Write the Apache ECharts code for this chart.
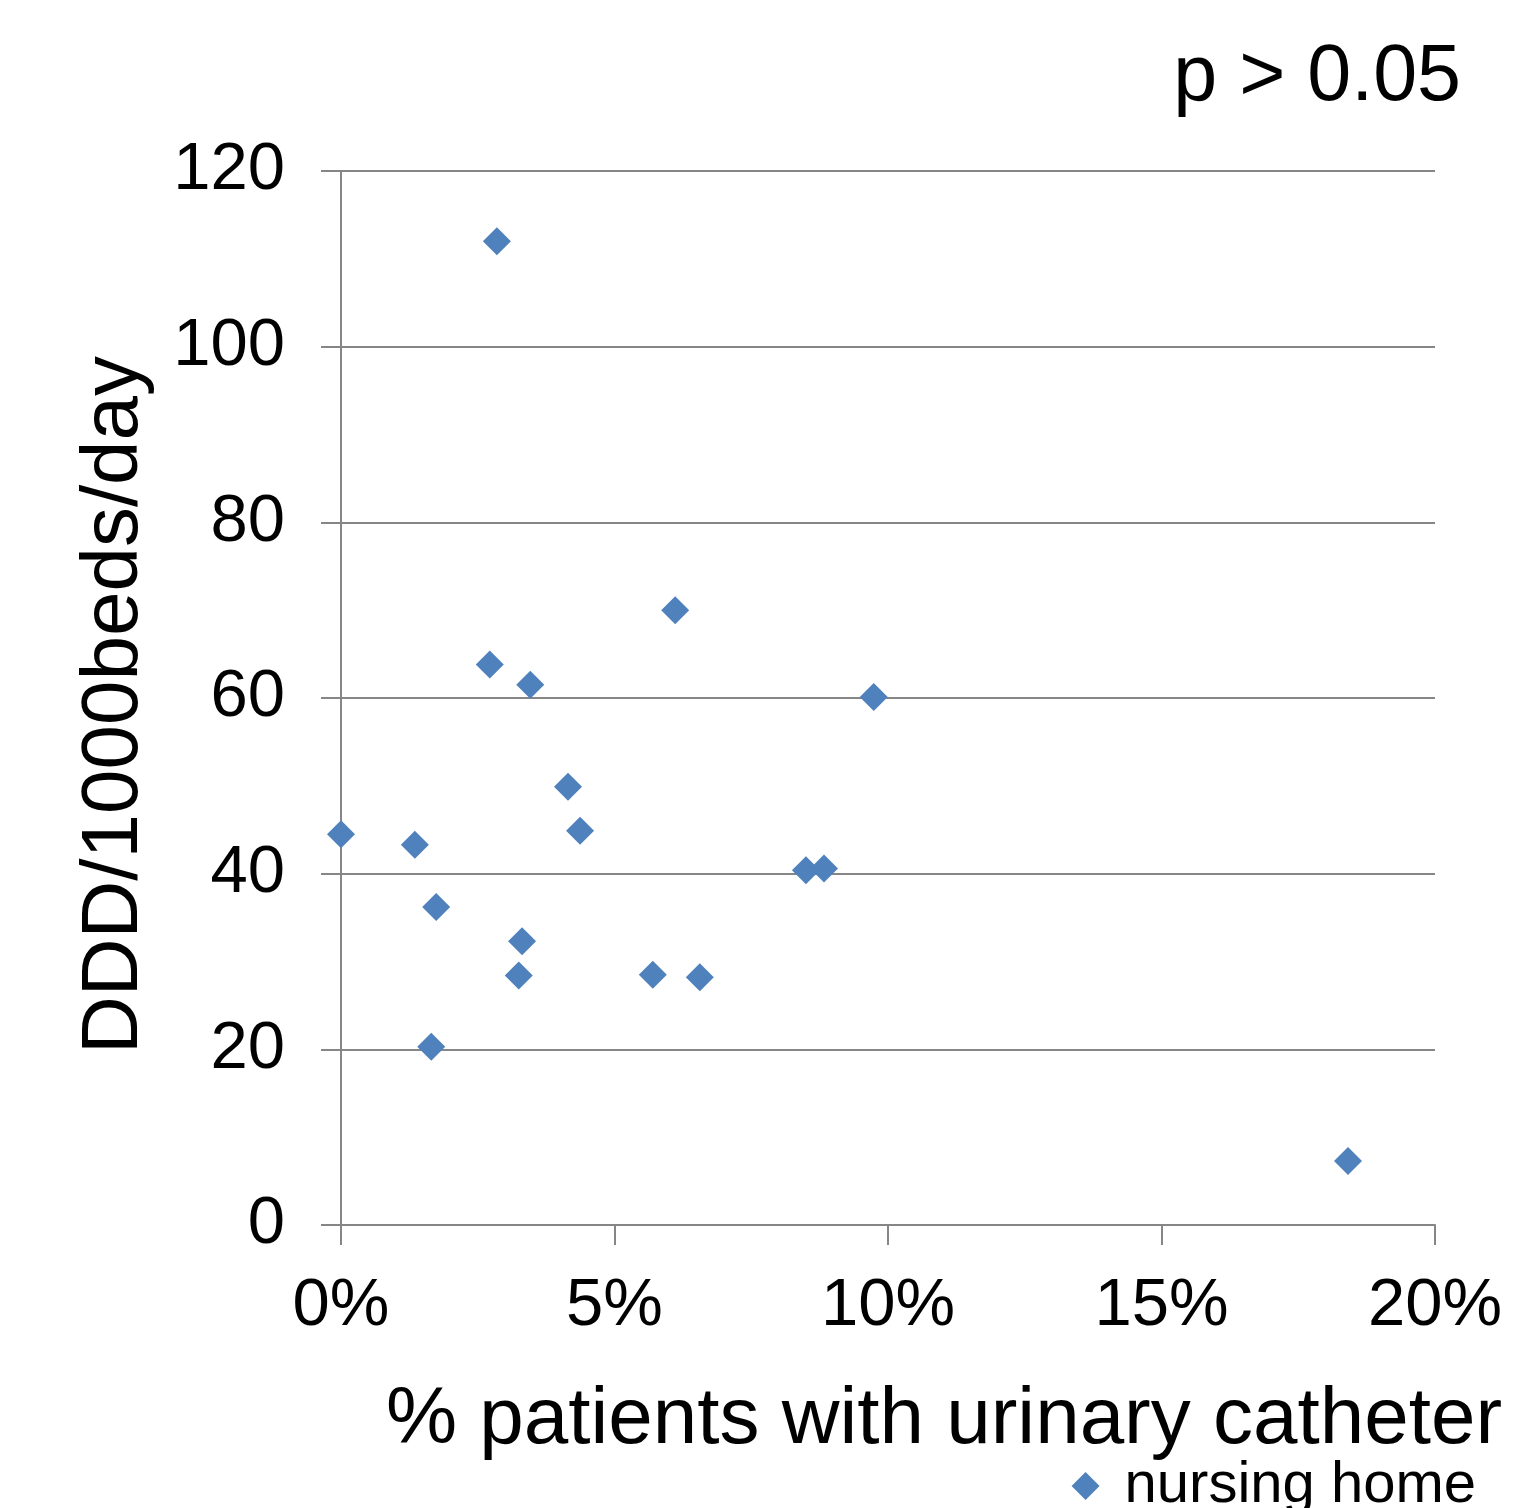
<!DOCTYPE html>
<html>
<head>
<meta charset="utf-8">
<script src="https://cdn.jsdelivr.net/npm/echarts@6/dist/echarts.min.js"></script>
<style>
  html, body { margin: 0; padding: 0; background: #fff; }
  #chart { width: 1513px; height: 1508px; }
</style>
</head>
<body>
<div id="chart"></div>
<script>
// % patients with urinary catheter vs DDD/1000beds/day
const catheterPct = [0, 1.35, 1.74, 1.65, 2.85, 2.72, 3.46, 3.31, 3.25, 4.15, 4.37, 5.7, 6.11, 6.56, 8.5, 8.83, 9.74, 18.41]
const dddValues = [44.5, 43.3, 36.2, 20.3, 112.0, 63.8, 61.5, 32.3, 28.4, 49.9, 44.9, 28.5, 70.0, 28.2, 40.4, 40.6, 60.1, 7.3]
const seriesName = 'nursing home'

const font = 'Liberation Sans, Arial, sans-serif'
const gridColor = '#868686'

const points = catheterPct.map((x, i) => [x, dddValues[i]])

const chart = echarts.init(document.getElementById('chart'))
const option = {
  animation: false,
  textStyle: { fontFamily: font },
  title: {
    text: 'p > 0.05',
    right: 47,
    top: 34,
    textStyle: { fontFamily: font, fontSize: 79, fontWeight: 'normal', color: '#000' },
  },
  grid: {
    left: 341,
    right: 78,
    top: 171,
    bottom: 283,
  },
  legend: {
    right: 32,
    top: 1452,
    itemWidth: 28,
    itemHeight: 28,
    itemGap: 10,
    icon: 'diamond',
    textStyle: { fontFamily: font, fontSize: 58, color: '#000', padding: [0, 0, 0, 20] },
    data: [seriesName],
  },
  xAxis: {
    type: 'value',
    min: 0,
    max: 20,
    interval: 5,
    name: '% patients with urinary catheter',
    nameLocation: 'middle',
    nameGap: 156,
    nameTextStyle: { fontFamily: font, fontSize: 80, color: '#000', padding: [0, 0, 0, 112] },
    axisLine: { show: true, lineStyle: { color: gridColor, width: 2 } },
    axisTick: { show: true, length: 20, lineStyle: { color: gridColor, width: 2 } },
    axisLabel: {
      margin: 48,
      fontSize: 67,
      color: '#000',
      formatter: v => v + '%',
    },
    splitLine: { show: false },
  },
  yAxis: {
    type: 'value',
    min: 0,
    max: 120,
    interval: 20,
    name: 'DDD/1000beds/day',
    nameLocation: 'middle',
    nameGap: 186,
    nameTextStyle: { fontFamily: font, fontSize: 80, color: '#000', padding: [0, 14, 0, 0] },
    axisLine: { show: true, lineStyle: { color: gridColor, width: 2 } },
    axisTick: { show: true, length: 20, lineStyle: { color: gridColor, width: 2 } },
    axisLabel: { margin: 56, fontSize: 67, color: '#000' },
    splitLine: { show: true, lineStyle: { color: gridColor, width: 2 } },
  },
  series: [
    {
      name: seriesName,
      type: 'scatter',
      symbol: 'diamond',
      symbolSize: 28,
      itemStyle: { color: '#4F81BD', opacity: 1 },
      data: points,
    },
  ],
}
chart.setOption(option)
</script>
</body>
</html>
